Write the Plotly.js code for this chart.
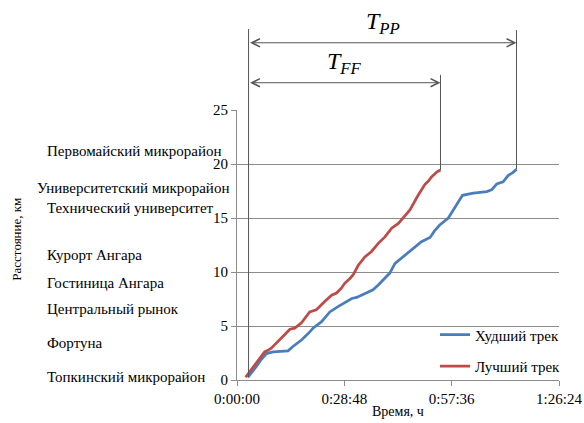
<!DOCTYPE html>
<html>
<head>
<meta charset="utf-8">
<script src="https://cdn.plot.ly/plotly-3.0.1.min.js"></script>
<style>html,body{margin:0;padding:0;background:#fff;}#chart{width:584px;height:423px;}</style>
</head>
<body>
<div id="chart"></div>
<script>
// Time in minutes, distance in km
const worstT = [2.9, 4.0, 5.2, 6.5, 7.9, 9.7, 12.0, 13.7, 15.0, 16.2, 17.3, 19.1, 20.4, 22.7, 24.9, 27.1, 29.4, 30.8, 32.1, 34.3, 36.5, 37.9, 39.7, 41.0, 42.4, 44.6, 47.3, 49.5, 51.8, 53.0, 54.4, 56.7, 58.5, 60.5, 63.4, 67.0, 68.3, 69.7, 71.4, 72.8, 74.0, 75.0];
const worstD = [0.25, 0.7, 1.25, 1.9, 2.45, 2.6, 2.65, 2.7, 3.1, 3.4, 3.7, 4.3, 4.8, 5.4, 6.3, 6.8, 7.3, 7.55, 7.65, 8.0, 8.35, 8.8, 9.4, 9.9, 10.8, 11.4, 12.2, 12.8, 13.2, 13.8, 14.35, 15.0, 16.0, 17.1, 17.3, 17.45, 17.6, 18.15, 18.35, 18.95, 19.2, 19.5];
const bestT = [2.3, 3.5, 5.2, 6.3, 7.4, 8.3, 9.2, 10.2, 11.5, 12.5, 14.2, 15.5, 17.3, 18.2, 19.5, 21.3, 22.4, 23.6, 25.4, 26.7, 28.0, 28.9, 30.3, 31.2, 32.5, 34.3, 36.1, 37.9, 39.7, 41.5, 43.3, 44.6, 46.4, 48.6, 50.4, 51.3, 52.2, 53.6, 54.6];
const bestD = [0.25, 0.8, 1.55, 2.0, 2.6, 2.75, 2.95, 3.3, 3.7, 4.1, 4.7, 4.8, 5.3, 5.7, 6.3, 6.5, 6.9, 7.3, 7.85, 8.05, 8.5, 8.95, 9.4, 9.75, 10.6, 11.4, 11.9, 12.65, 13.25, 14.05, 14.5, 15.0, 15.75, 17.1, 18.1, 18.4, 18.8, 19.25, 19.45];
const seriesNames = ["Худший трек", "Лучший трек"];
const xTickVals = [0, 28.8, 57.6, 86.4];
const xTickText = ["0:00:00", "0:28:48", "0:57:36", "1:26:24"];
const yTickVals = [0, 5, 10, 15, 20, 25];
const stations = ["Первомайский микрорайон", "Университетский микрорайон", "Технический университет", "Курорт Ангара", "Гостиница Ангара", "Центральный рынок", "Фортуна", "Топкинский микрорайон"];
const stationKm = [21.2, 17.8, 15.95, 11.6, 9.0, 6.55, 3.45, 0.25];
const intervalSubs = ["PP", "FF"];

const FONT = "'Liberation Serif', 'Times New Roman', serif";
const GRID = "#8c8c8c";
const ARROW = "#555555";

const traces = [
  {x: worstT, y: worstD, name: seriesNames[0], mode: "lines", legendgroup: "a",
   line: {color: "#4A7EBB", width: 2.75}},
  {x: bestT, y: bestD, name: seriesNames[1], mode: "lines", legendgroup: "b",
   line: {color: "#BE4B48", width: 2.75}}
];

// interval markers derived from the data
const t0 = bestT[0] + 0.8;
const tBestEnd = bestT[bestT.length - 1];
const tWorstEnd = worstT[worstT.length - 1];
const dBestEnd = bestD[bestD.length - 1];
const dWorstEnd = worstD[worstD.length - 1];
const yPaper = km => km / 25;

const shapes = [
  {type: "line", xref: "x", yref: "paper", x0: t0, x1: t0, y0: yPaper(0.3), y1: 1.30, line: {color: ARROW, width: 1}},
  {type: "line", xref: "x", yref: "paper", x0: tWorstEnd, x1: tWorstEnd, y0: yPaper(dWorstEnd), y1: 1.296, line: {color: ARROW, width: 1}},
  {type: "line", xref: "x", yref: "paper", x0: tBestEnd, x1: tBestEnd, y0: yPaper(dBestEnd), y1: 1.13, line: {color: ARROW, width: 1}}
];

const annotations = [];
// arrows
[[tWorstEnd, 1.249], [tBestEnd, 1.101]].forEach(([te, yp]) => {
  annotations.push({xref: "x", yref: "paper", x: te, y: yp, axref: "x", ayref: "pixel", ax: t0, ay: 0,
    text: " ", showarrow: true, arrowside: "end+start", arrowhead: 5, startarrowhead: 5,
    arrowsize: 1.6, startarrowsize: 1.6, arrowwidth: 1, arrowcolor: ARROW, standoff: 0, startstandoff: 0,
    font: {size: 1}});
});
annotations.push({xref: "x", yref: "paper", x: (t0 + tWorstEnd) / 2, y: 1.322, text: "<i>T</i><sub><i>" + intervalSubs[0] + "</i></sub>",
  showarrow: false, font: {family: FONT, size: 24, color: "#000"}, xanchor: "center", yanchor: "middle"});
annotations.push({xref: "x", yref: "paper", x: (t0 + tBestEnd) / 2, y: 1.174, text: "<i>T</i><sub><i>" + intervalSubs[1] + "</i></sub>",
  showarrow: false, font: {family: FONT, size: 24, color: "#000"}, xanchor: "center", yanchor: "middle"});
// station labels
stations.forEach((s, i) => {
  annotations.push({xref: "paper", yref: "y", x: (i === 1 ? -0.627 : -0.596), y: stationKm[i], text: s,
    showarrow: false, xanchor: "left", yanchor: "middle", font: {family: FONT, size: 15, color: "#000"}});
});
// axis titles
annotations.push({xref: "paper", yref: "paper", x: 0.5, y: -0.118, text: "Время, ч", showarrow: false,
  xanchor: "center", yanchor: "middle", font: {family: FONT, size: 14, color: "#000"}});
annotations.push({xref: "paper", yref: "paper", x: -0.683, y: 0.52, text: "Расстояние, км", textangle: -90, showarrow: false,
  xanchor: "center", yanchor: "middle", font: {family: FONT, size: 13, color: "#000"}});

const layout = {
  width: 584, height: 423,
  margin: {l: 237, r: 25, t: 110, b: 43, pad: 0},
  paper_bgcolor: "#fff", plot_bgcolor: "#fff",
  font: {family: FONT, size: 15, color: "#000"},
  showlegend: true,
  legend: {x: 0.615, xanchor: "left", y: 0.228, yanchor: "top", bgcolor: "rgba(0,0,0,0)",
    traceorder: "grouped", tracegroupgap: 9, font: {family: FONT, size: 15, color: "#000"}},
  xaxis: {range: [0, 86.4], tickmode: "array", tickvals: xTickVals, ticktext: xTickText,
    showgrid: false, zeroline: false, showline: true, linecolor: GRID, linewidth: 1,
    ticks: "outside", ticklen: 5, tickcolor: GRID, tickfont: {family: FONT, size: 15}, fixedrange: true},
  yaxis: {range: [0, 25], tickmode: "array", tickvals: yTickVals,
    showgrid: true, gridcolor: GRID, gridwidth: 1, zeroline: false, showline: true, linecolor: GRID, linewidth: 1,
    ticks: "outside", ticklen: 5, tickcolor: GRID, tickfont: {family: FONT, size: 15}, fixedrange: true},
  shapes: shapes,
  annotations: annotations
};

Plotly.newPlot("chart", traces, layout, {displayModeBar: false, staticPlot: true});
</script>
</body>
</html>
